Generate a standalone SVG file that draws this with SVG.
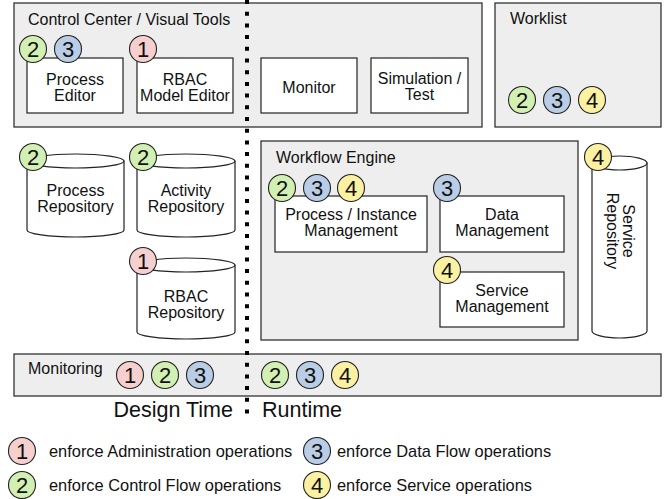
<svg xmlns="http://www.w3.org/2000/svg" width="665" height="499" viewBox="0 0 665 499">
<style>
text{font-family:"Liberation Sans",Arial,sans-serif;fill:#111}
.grp{fill:#eeeeee;stroke:#333;stroke-width:1.3}
.box{fill:#fff;stroke:#222;stroke-width:1.2}
.cyl{fill:#fff;stroke:#222;stroke-width:1.2}
.t{font-size:16px;text-anchor:middle}
.tl{font-size:16px}
.b circle{stroke:#222;stroke-width:1.1}
.b text{font-size:22px;text-anchor:middle}
.c1{fill:#f6cfcf}.c2{fill:#d2f0b4}.c3{fill:#b9cde6}.c4{fill:#fcf0a2}
.lg{font-size:16.4px}
.big{font-size:21.5px}
</style>
<defs>
<g id="b1" class="b"><circle r="13.5" class="c1"/><text y="8">1</text></g>
<g id="b2" class="b"><circle r="13.5" class="c2"/><text y="8">2</text></g>
<g id="b3" class="b"><circle r="13.5" class="c3"/><text y="8">3</text></g>
<g id="b4" class="b"><circle r="13.5" class="c4"/><text y="8">4</text></g>
</defs>

<g id="control-center">
<rect class="grp" x="14" y="3" width="468" height="124"/>
<text class="tl" x="28" y="25">Control Center / Visual Tools</text>
</g>
<g id="worklist">
<rect class="grp" x="495" y="3" width="166" height="124"/>
<text class="tl" x="510" y="24">Worklist</text>
<use href="#b2" x="522" y="100"/><use href="#b3" x="557" y="100"/><use href="#b4" x="592" y="100"/>
</g>
<g id="process-editor">
<rect class="box" x="27" y="58" width="96" height="55"/>
<text class="t" x="75" y="85">Process</text><text class="t" x="75" y="101">Editor</text>
<use href="#b2" x="33" y="49"/><use href="#b3" x="68" y="49"/>
</g>
<g id="rbac-model-editor">
<rect class="box" x="137" y="58" width="96" height="55"/>
<text class="t" x="185" y="85">RBAC</text><text class="t" x="185" y="101">Model Editor</text>
<use href="#b1" x="143" y="49"/>
</g>
<g id="monitor">
<rect class="box" x="261" y="58" width="96" height="55"/>
<text class="t" x="309" y="93">Monitor</text>
</g>
<g id="simulation">
<rect class="box" x="371" y="58" width="97" height="55"/>
<text class="t" x="419.5" y="84">Simulation /</text><text class="t" x="419.5" y="100">Test</text>
</g>

<g id="process-repository">
<path class="cyl" d="M27 161 L27 230 A48.5 7 0 0 0 124 230 L124 161 Z"/>
<ellipse class="cyl" cx="75.5" cy="161" rx="48.5" ry="7"/>
<text class="t" x="75.5" y="196">Process</text><text class="t" x="75.5" y="212">Repository</text>
<use href="#b2" x="33" y="157"/>
</g>
<g id="activity-repository">
<path class="cyl" d="M137 161 L137 230 A49 7 0 0 0 235 230 L235 161 Z"/>
<ellipse class="cyl" cx="186" cy="161" rx="49" ry="7"/>
<text class="t" x="186" y="196">Activity</text><text class="t" x="186" y="212">Repository</text>
<use href="#b2" x="143" y="157"/>
</g>
<g id="rbac-repository">
<path class="cyl" d="M137 265 L137 332 A49 7 0 0 0 235 332 L235 265 Z"/>
<ellipse class="cyl" cx="186" cy="265" rx="49" ry="7"/>
<text class="t" x="186" y="302">RBAC</text><text class="t" x="186" y="318">Repository</text>
<use href="#b1" x="143" y="261"/>
</g>

<g id="workflow-engine">
<rect class="grp" x="261" y="141" width="317" height="199"/>
<text class="tl" x="276" y="163">Workflow Engine</text>
</g>
<g id="process-instance-management">
<rect class="box" x="275" y="196" width="152" height="56"/>
<text class="t" x="351" y="220">Process / Instance</text><text class="t" x="351" y="236">Management</text>
<use href="#b2" x="282" y="188"/><use href="#b3" x="317" y="188"/><use href="#b4" x="351" y="188"/>
</g>
<g id="data-management">
<rect class="box" x="440" y="196" width="124" height="56"/>
<text class="t" x="502" y="220">Data</text><text class="t" x="502" y="236">Management</text>
<use href="#b3" x="447" y="188"/>
</g>
<g id="service-management">
<rect class="box" x="440" y="272" width="124" height="55"/>
<text class="t" x="502" y="296">Service</text><text class="t" x="502" y="312">Management</text>
<use href="#b4" x="447" y="270"/>
</g>
<g id="service-repository">
<path class="cyl" d="M592 163 L592 331 A27.5 7 0 0 0 647 331 L647 163 Z"/>
<ellipse class="cyl" cx="619.5" cy="163" rx="27.5" ry="7"/>
<g transform="translate(619.5 231) rotate(90)">
<text class="t" x="0" y="-3">Service</text><text class="t" x="0" y="13">Repository</text>
</g>
<use href="#b4" x="598" y="157"/>
</g>

<g id="monitoring">
<rect class="grp" x="14" y="354" width="647" height="42"/>
<text class="tl" x="28" y="374">Monitoring</text>
<use href="#b1" x="130" y="375"/><use href="#b2" x="165" y="375"/><use href="#b3" x="200" y="375"/>
<use href="#b2" x="275" y="375"/><use href="#b3" x="310" y="375"/><use href="#b4" x="345" y="375"/>
</g>

<g id="connectors">
<line x1="247" y1="0" x2="247" y2="419" stroke="#000" stroke-width="4" stroke-dasharray="4 7.7"/>
</g>

<g id="labels">
<text class="big" x="233" y="417" text-anchor="end">Design Time</text>
<text class="big" x="262" y="417">Runtime</text>
</g>

<g id="legend">
<use href="#b1" x="22" y="451"/><text class="lg" x="49" y="457">enforce Administration operations</text>
<use href="#b2" x="22" y="485"/><text class="lg" x="49" y="491">enforce Control Flow operations</text>
<use href="#b3" x="317" y="451"/><text class="lg" x="337" y="457">enforce Data Flow operations</text>
<use href="#b4" x="317" y="485"/><text class="lg" x="337" y="491">enforce Service operations</text>
</g>
</svg>
